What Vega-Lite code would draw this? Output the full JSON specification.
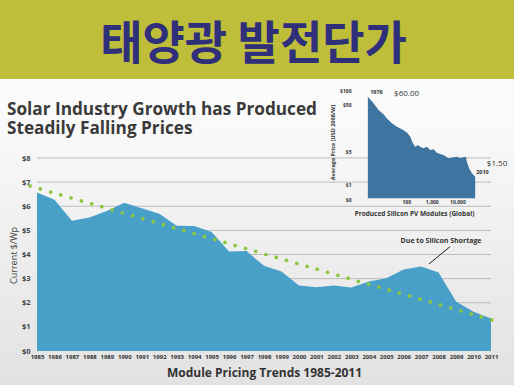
{
  "$schema": "https://vega.github.io/schema/vega-lite/v6.json",
  "width": 454,
  "height": 193,
  "autosize": {"type": "none"},
  "padding": {"left": 37, "top": 158, "right": 23, "bottom": 34},
  "background": "#ffffff",
  "config": {
    "view": {"stroke": null},
    "font": "Open Sans",
    "axis": {"labelFont": "Open Sans", "titleFont": "Open Sans"},
    "text": {"font": "Open Sans"}
  },
  "datasets": {
    "prices": [
      {"year": 1985, "price": 6.57}, {"year": 1986, "price": 6.27}, {"year": 1987, "price": 5.40},
      {"year": 1988, "price": 5.53}, {"year": 1989, "price": 5.80}, {"year": 1990, "price": 6.14},
      {"year": 1991, "price": 5.92}, {"year": 1992, "price": 5.69}, {"year": 1993, "price": 5.19},
      {"year": 1994, "price": 5.18}, {"year": 1995, "price": 4.93}, {"year": 1996, "price": 4.12},
      {"year": 1997, "price": 4.14}, {"year": 1998, "price": 3.53}, {"year": 1999, "price": 3.30},
      {"year": 2000, "price": 2.72}, {"year": 2001, "price": 2.64}, {"year": 2002, "price": 2.71},
      {"year": 2003, "price": 2.63}, {"year": 2004, "price": 2.88}, {"year": 2005, "price": 3.02},
      {"year": 2006, "price": 3.38}, {"year": 2007, "price": 3.50}, {"year": 2008, "price": 3.25},
      {"year": 2009, "price": 2.05}, {"year": 2010, "price": 1.63}, {"year": 2011, "price": 1.35}
    ],
    "trend": [
      {"year": 1984.60, "price": 6.84}, {"year": 1985.19, "price": 6.72}, {"year": 1985.78, "price": 6.59},
      {"year": 1986.36, "price": 6.47}, {"year": 1986.95, "price": 6.35}, {"year": 1987.54, "price": 6.22},
      {"year": 1988.13, "price": 6.10}, {"year": 1988.71, "price": 5.98}, {"year": 1989.30, "price": 5.85},
      {"year": 1989.89, "price": 5.73}, {"year": 1990.48, "price": 5.61}, {"year": 1991.06, "price": 5.48},
      {"year": 1991.65, "price": 5.36}, {"year": 1992.24, "price": 5.24}, {"year": 1992.83, "price": 5.11},
      {"year": 1993.41, "price": 4.99}, {"year": 1994.00, "price": 4.87}, {"year": 1994.59, "price": 4.74},
      {"year": 1995.18, "price": 4.62}, {"year": 1995.76, "price": 4.50}, {"year": 1996.35, "price": 4.37},
      {"year": 1996.94, "price": 4.25}, {"year": 1997.53, "price": 4.13}, {"year": 1998.11, "price": 4.00},
      {"year": 1998.70, "price": 3.88}, {"year": 1999.29, "price": 3.76}, {"year": 1999.88, "price": 3.63},
      {"year": 2000.47, "price": 3.51}, {"year": 2001.05, "price": 3.39}, {"year": 2001.64, "price": 3.26},
      {"year": 2002.23, "price": 3.14}, {"year": 2002.82, "price": 3.02}, {"year": 2003.40, "price": 2.89},
      {"year": 2003.99, "price": 2.77}, {"year": 2004.58, "price": 2.65}, {"year": 2005.17, "price": 2.52},
      {"year": 2005.75, "price": 2.40}, {"year": 2006.34, "price": 2.28}, {"year": 2006.93, "price": 2.15},
      {"year": 2007.52, "price": 2.03}, {"year": 2008.10, "price": 1.91}, {"year": 2008.69, "price": 1.78},
      {"year": 2009.28, "price": 1.66}, {"year": 2009.87, "price": 1.54}, {"year": 2010.45, "price": 1.41},
      {"year": 2011.04, "price": 1.29}
    ],
    "grid": [
      {"price": 1}, {"price": 2}, {"price": 3}, {"price": 4},
      {"price": 5}, {"price": 6}, {"price": 7}, {"price": 8}
    ],
    "inset": [
      {"modules": 3.18, "avg": 72.0}, {"modules": 3.93, "avg": 63.0}, {"modules": 5.30, "avg": 52.0},
      {"modules": 8.30, "avg": 37.5}, {"modules": 13.0, "avg": 30.4}, {"modules": 17.6, "avg": 24.9},
      {"modules": 27.5, "avg": 19.5}, {"modules": 43.2, "avg": 16.6}, {"modules": 67.7, "avg": 14.6},
      {"modules": 106, "avg": 12.4}, {"modules": 143, "avg": 10.2}, {"modules": 182, "avg": 7.33},
      {"modules": 225, "avg": 6.23}, {"modules": 286, "avg": 6.76}, {"modules": 352, "avg": 6.23},
      {"modules": 475, "avg": 5.74}, {"modules": 641, "avg": 6.23}, {"modules": 866, "avg": 5.29},
      {"modules": 1169, "avg": 5.47}, {"modules": 1578, "avg": 4.64}, {"modules": 2129, "avg": 4.35},
      {"modules": 2872, "avg": 4.14}, {"modules": 4506, "avg": 3.52}, {"modules": 7063, "avg": 3.69},
      {"modules": 9530, "avg": 3.82}, {"modules": 12860, "avg": 3.57}, {"modules": 17350, "avg": 3.69},
      {"modules": 21420, "avg": 3.82}, {"modules": 23440, "avg": 2.99}, {"modules": 28900, "avg": 2.15},
      {"modules": 36700, "avg": 1.69}, {"modules": 49550, "avg": 1.43}
    ]
  },
  "layer": [
    {
      "layer": [
        {
          "data": {"values": [{}]},
          "mark": {
            "type": "rect",
            "fill": {
              "gradient": "linear", "x1": 0, "y1": 0, "x2": 0, "y2": 1,
              "stops": [
                {"offset": 0, "color": "#ffffff"},
                {"offset": 0.3, "color": "#fafafa"},
                {"offset": 1, "color": "#e2e2e2"}
              ]
            }
          },
          "encoding": {
            "x": {"datum": 1982.88, "axis": null, "scale": {"domain": [1985, 2011], "nice": false, "zero": false}},
            "x2": {"datum": 2012.32},
            "y": {"datum": 14.55, "axis": null, "scale": {"domain": [0, 8], "nice": false}},
            "y2": {"datum": -1.41}
          }
        },
        {
          "data": {"values": [{}]},
          "mark": {"type": "rect", "fill": "#bebe3a"},
          "encoding": {
            "x": {"datum": 1982.88, "axis": null},
            "x2": {"datum": 2012.32},
            "y": {"datum": 14.55, "axis": null},
            "y2": {"datum": 11.27}
          }
        },
        {
          "data": {"name": "grid"},
          "mark": {"type": "rule", "stroke": "#bdbdbd", "strokeWidth": 1},
          "encoding": {
            "x": {"datum": 1985, "axis": null},
            "x2": {"datum": 2011},
            "y": {"field": "price", "type": "quantitative", "axis": null}
          }
        }
      ]
    },
    {
      "data": {"name": "prices"},
      "mark": {"type": "area", "color": "#48a0c9", "opacity": 1},
      "encoding": {
        "x": {
          "field": "year", "type": "quantitative",
          "scale": {"domain": [1985, 2011], "nice": false, "zero": false},
          "axis": {
            "orient": "bottom", "zindex": 2,
            "values": [1985, 1986, 1987, 1988, 1989, 1990, 1991, 1992, 1993, 1994, 1995, 1996, 1997, 1998, 1999, 2000, 2001, 2002, 2003, 2004, 2005, 2006, 2007, 2008, 2009, 2010, 2011],
            "format": "d",
            "labelFontSize": 6, "labelFontWeight": "bold", "labelColor": "#333333",
            "labelPadding": 2, "labelFlush": false, "labelOverlap": false,
            "ticks": false, "domain": false, "grid": false,
            "title": "Module Pricing Trends 1985-2011",
            "titleFontSize": 12, "titleFontWeight": "bold", "titleColor": "#333333",
            "titlePadding": 8
          }
        },
        "y": {
          "field": "price", "type": "quantitative",
          "scale": {"domain": [0, 8], "nice": false},
          "axis": {
            "orient": "left", "zindex": 2,
            "values": [0, 1, 2, 3, 4, 5, 6, 7, 8],
            "labelExpr": "'$' + datum.value",
            "labelFontSize": 7.5, "labelFontWeight": "bold", "labelColor": "#444444",
            "labelPadding": 7,
            "ticks": false, "domain": false, "grid": false,
            "title": "Current $/Wp",
            "titleFontSize": 9, "titleFontWeight": "normal", "titleColor": "#444444",
            "titleX": -24, "titleY": 97, "titleBaseline": "middle"
          }
        }
      }
    },
    {
      "data": {"name": "inset"},
      "mark": {"type": "area", "color": "#3e75a0", "opacity": 1},
      "encoding": {
        "x": {
          "field": "modules", "type": "quantitative",
          "scale": {"type": "log", "domain": [1, 100000], "range": [318, 446], "nice": false},
          "axis": {
            "orient": "bottom", "offset": -153, "zindex": 2,
            "values": [100, 1000, 10000], "format": ",",
            "labelFontSize": 5, "labelFontWeight": "bold", "labelColor": "#333333",
            "labelPadding": 1, "labelFlush": false,
            "ticks": false, "domain": false, "grid": false,
            "title": "Produced Silicon PV Modules (Global)",
            "titleFontSize": 6.5, "titleFontWeight": "bold", "titleColor": "#333333",
            "titleX": 377, "titleY": 15, "titleBaseline": "middle"
          }
        },
        "y": {
          "field": "avg", "type": "quantitative",
          "scale": {"type": "log", "domain": [0.45, 100], "range": [42.3, -68], "nice": false},
          "axis": {
            "orient": "left", "offset": -314, "zindex": 2,
            "values": [100, 50, 5, 1, 0.47],
            "labelExpr": "datum.value < 0.9 ? '$0' : '$' + datum.value",
            "labelFontSize": 5, "labelFontWeight": "bold", "labelColor": "#333333",
            "labelPadding": 0,
            "ticks": false, "domain": false, "grid": false,
            "title": "Average Price [USD 2008/W]",
            "titleFontSize": 5.5, "titleFontWeight": "bold", "titleColor": "#333333",
            "titleX": -19, "titleY": -16, "titleBaseline": "middle"
          }
        },
        "y2": {"datum": 0.5}
      }
    },
    {
      "layer": [
        {
          "data": {"name": "trend"},
          "mark": {"type": "circle", "color": "#8dc63f", "size": 14, "opacity": 1},
          "encoding": {
            "x": {"field": "year", "type": "quantitative", "axis": null,
                  "scale": {"domain": [1985, 2011], "nice": false, "zero": false}},
            "y": {"field": "price", "type": "quantitative", "axis": null,
                  "scale": {"domain": [0, 8], "nice": false}}
          }
        },
        {
          "data": {"values": [{}]},
          "mark": {"type": "text", "text": "태양광 발전단가", "font": "Noto Sans CJK KR", "fontWeight": "bold", "fontSize": 46, "color": "#2f2f7a", "align": "center", "baseline": "alphabetic"},
          "encoding": {"x": {"datum": 1997.40, "axis": null}, "y": {"datum": 12.10, "axis": null}}
        },
        {
          "data": {"values": [{}]},
          "mark": {"type": "text", "text": "Solar Industry Growth has Produced", "fontWeight": "bold", "fontSize": 17.2, "color": "#3a3a3a", "align": "left", "baseline": "alphabetic"},
          "encoding": {"x": {"datum": 1983.28, "axis": null}, "y": {"datum": 9.80, "axis": null}}
        },
        {
          "data": {"values": [{}]},
          "mark": {"type": "text", "text": "Steadily Falling Prices", "fontWeight": "bold", "fontSize": 17.2, "color": "#3a3a3a", "align": "left", "baseline": "alphabetic"},
          "encoding": {"x": {"datum": 1983.28, "axis": null}, "y": {"datum": 8.99, "axis": null}}
        },
        {
          "data": {"values": [{}]},
          "mark": {"type": "text", "text": "Due to Silicon Shortage", "fontWeight": "bold", "fontSize": 7, "color": "#333333", "align": "center", "baseline": "middle"},
          "encoding": {"x": {"datum": 2008.14, "axis": null}, "y": {"datum": 4.58, "axis": null}}
        },
        {
          "data": {"values": [{}]},
          "mark": {"type": "rule", "stroke": "#222222", "strokeWidth": 1},
          "encoding": {
            "x": {"datum": 2008.65, "axis": null}, "y": {"datum": 4.32, "axis": null},
            "x2": {"datum": 2007.45}, "y2": {"datum": 3.61}
          }
        },
        {
          "data": {"values": [{}]},
          "mark": {"type": "text", "text": "$1.50", "fontSize": 8, "color": "#333333", "align": "left", "baseline": "middle"},
          "encoding": {"x": {"datum": 2010.76, "axis": null}, "y": {"datum": 7.74, "axis": null}}
        },
        {
          "data": {"values": [{}]},
          "mark": {"type": "text", "text": "2010", "fontSize": 5.5, "fontWeight": "bold", "color": "#333333", "align": "center", "baseline": "middle"},
          "encoding": {"x": {"datum": 2010.51, "axis": null}, "y": {"datum": 7.43, "axis": null}}
        },
        {
          "data": {"values": [{}]},
          "mark": {"type": "text", "text": "1976", "fontSize": 5.5, "fontWeight": "bold", "color": "#333333", "align": "center", "baseline": "middle"},
          "encoding": {"x": {"datum": 2004.44, "axis": null}, "y": {"datum": 10.74, "axis": null}}
        },
        {
          "data": {"values": [{}]},
          "mark": {"type": "text", "text": "$60.00", "fontSize": 8, "color": "#333333", "align": "left", "baseline": "middle"},
          "encoding": {"x": {"datum": 2005.45, "axis": null}, "y": {"datum": 10.65, "axis": null}}
        }
      ]
    }
  ],
  "resolve": {
    "scale": {"x": "independent", "y": "independent"},
    "axis": {"x": "independent", "y": "independent"}
  }
}
